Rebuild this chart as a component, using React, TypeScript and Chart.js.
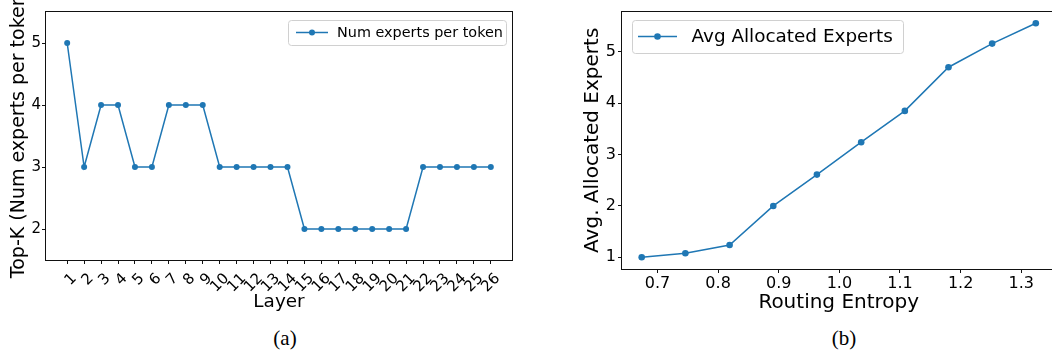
import { useEffect, useRef } from 'react';
import { Chart, registerables } from 'chart.js';

Chart.register(...registerables);

// Panel (a): experts per token for each layer
const layers = [1, 2, 3, 4, 5, 6, 7, 8, 9, 10, 11, 12, 13, 14, 15, 16, 17, 18, 19, 20, 21, 22, 23, 24, 25, 26];
const topK = [5, 3, 4, 4, 3, 3, 4, 4, 4, 3, 3, 3, 3, 3, 2, 2, 2, 2, 2, 2, 2, 3, 3, 3, 3, 3];
const topKTicks = [2, 3, 4, 5];

// Panel (b): average allocated experts vs. routing entropy
const entropy = [0.674, 0.746, 0.819, 0.891, 0.963, 1.036, 1.108, 1.18, 1.252, 1.324];
const avgExperts = [1.0, 1.08, 1.24, 2.0, 2.61, 3.24, 3.85, 4.7, 5.16, 5.555];
const entropyTicks = [0.7, 0.8, 0.9, 1.0, 1.1, 1.2, 1.3];
const avgTicks = [1, 2, 3, 4, 5];

const BLUE = '#1f77b4';
const FAMILY = "'DejaVu Sans', sans-serif";
Chart.defaults.font.family = FAMILY;
Chart.defaults.color = '#000';

// Full rectangular frame around the plotting area
const framePlugin = {
  id: 'frame',
  afterDraw(chart: any) {
    const { ctx, chartArea: a } = chart;
    ctx.save();
    ctx.strokeStyle = '#111';
    ctx.lineWidth = 1;
    const l = Math.round(a.left) - 0.5;
    const t = Math.round(a.top) - 0.5;
    const r = Math.round(a.right) + 0.5;
    const b = Math.round(a.bottom) + 0.5;
    ctx.strokeRect(l, t, r - l, b - t);
    ctx.restore();
  },
};

// Vertical axis title placed by its own centre point (may run past the canvas edge)
const sideTitlePlugin = {
  id: 'sideTitle',
  afterDraw(chart: any, _args: any, o: any) {
    if (!o || !o.text) return;
    const { ctx } = chart;
    ctx.save();
    ctx.translate(o.x, o.y);
    ctx.rotate(-Math.PI / 2);
    ctx.font = `${o.size}px ${FAMILY}`;
    ctx.fillStyle = '#000';
    ctx.textAlign = 'center';
    ctx.textBaseline = 'middle';
    ctx.fillText(o.text, 0, 0);
    ctx.restore();
  },
};

// Legend box with a line-and-marker sample
const legendBoxPlugin = {
  id: 'legendBox',
  afterDraw(chart: any, _args: any, o: any) {
    const { ctx } = chart;
    const ds = chart.data.datasets[0];
    ctx.save();
    ctx.beginPath();
    ctx.roundRect(o.x + 0.5, o.y + 0.5, o.w, o.h, 3);
    ctx.fillStyle = 'rgba(255,255,255,0.8)';
    ctx.fill();
    ctx.strokeStyle = '#d0d0d0';
    ctx.lineWidth = 1;
    ctx.stroke();
    const cy = o.y + o.h / 2;
    ctx.strokeStyle = ds.borderColor;
    ctx.lineWidth = ds.borderWidth;
    ctx.beginPath();
    ctx.moveTo(o.x1, cy);
    ctx.lineTo(o.x2, cy);
    ctx.stroke();
    ctx.fillStyle = ds.borderColor;
    ctx.beginPath();
    ctx.arc((o.x1 + o.x2) / 2, cy, ds.pointRadius, 0, Math.PI * 2);
    ctx.fill();
    ctx.fillStyle = '#000';
    ctx.font = `${o.size}px ${FAMILY}`;
    ctx.textBaseline = 'middle';
    ctx.textAlign = 'left';
    ctx.fillText(ds.label, o.tx, cy + 1);
    ctx.restore();
  },
};

function LineCanvas({ config, left, width, height }: any) {
  const ref = useRef<HTMLCanvasElement | null>(null);
  useEffect(() => {
    const chart = new Chart(ref.current as HTMLCanvasElement, config);
    return () => chart.destroy();
  }, []);
  return (
    <canvas
      ref={ref}
      width={width}
      height={height}
      style={{ position: 'absolute', left, top: 0, width, height, display: 'block' }}
    />
  );
}

const fixedTicks = (values: number[]) => (s: any) => {
  s.ticks = values.map((v) => ({ value: v }));
};

const configA: any = {
  type: 'line',
  data: {
    datasets: [
      {
        label: 'Num experts per token',
        data: layers.map((l, i) => ({ x: l, y: topK[i] })),
        borderColor: BLUE,
        backgroundColor: BLUE,
        borderWidth: 1.5,
        pointRadius: 3,
        pointBorderWidth: 0,
        tension: 0,
      },
    ],
  },
  options: {
    responsive: false,
    animation: false,
    events: [],
    devicePixelRatio: 1,
    layout: { padding: { left: 0, top: 12, right: 18, bottom: 0 } },
    plugins: {
      legend: { display: false },
      tooltip: { enabled: false },
      legendBox: { x: 288, y: 20, w: 218, h: 25, x1: 296, x2: 328, tx: 337, size: 14.4 },
      sideTitle: { text: 'Top-K (Num experts per token)', x: 19, y: 132.5, size: 19 },
    },
    scales: {
      x: {
        type: 'linear',
        min: -0.25,
        max: 27.25,
        afterBuildTicks: fixedTicks(layers),
        afterFit: (s: any) => {
          s.height = 60;
        },
        ticks: {
          autoSkip: false,
          minRotation: 45,
          maxRotation: 45,
          font: { size: 15 },
          padding: 6,
          labelOffset: 7,
          callback: (v: number) => String(v),
        },
        grid: { drawOnChartArea: false, tickLength: 4, color: '#111' },
        border: { display: false },
        title: { display: true, text: 'Layer', font: { size: 18.4 }, padding: { top: 0, bottom: 6.5 } },
      },
      y: {
        min: 1.5,
        max: 5.5,
        afterBuildTicks: fixedTicks(topKTicks),
        afterFit: (s: any) => {
          s.width = 46;
        },
        ticks: { font: { size: 15 }, padding: 1, callback: (v: number) => String(v) },
        grid: { drawOnChartArea: false, tickLength: 4, color: '#111' },
        border: { display: false },
        title: { display: false },
      },
    },
  },
  plugins: [framePlugin, legendBoxPlugin, sideTitlePlugin],
};

const configB: any = {
  type: 'line',
  data: {
    datasets: [
      {
        label: 'Avg Allocated Experts',
        data: entropy.map((e, i) => ({ x: e, y: avgExperts[i] })),
        borderColor: BLUE,
        backgroundColor: BLUE,
        borderWidth: 1.5,
        pointRadius: 3.3,
        pointBorderWidth: 0,
        tension: 0,
      },
    ],
  },
  options: {
    responsive: false,
    animation: false,
    events: [],
    devicePixelRatio: 1,
    layout: { padding: { left: 0, top: 11, right: 4.5, bottom: 0 } },
    plugins: {
      legend: { display: false },
      tooltip: { enabled: false },
      legendBox: { x: 102, y: 20, w: 271, h: 33, x1: 108, x2: 147, tx: 161.5, size: 18.4 },
    },
    scales: {
      x: {
        type: 'linear',
        min: 0.6415,
        max: 1.3565,
        afterBuildTicks: fixedTicks(entropyTicks),
        afterFit: (s: any) => {
          s.height = 51;
        },
        ticks: { font: { size: 16 }, padding: 1, callback: (v: number) => v.toFixed(1) },
        grid: { drawOnChartArea: false, tickLength: 4, color: '#111' },
        border: { display: false },
        title: { display: true, text: 'Routing Entropy', font: { size: 20 }, padding: { top: 0, bottom: 5 } },
      },
      y: {
        min: 0.7725,
        max: 5.7825,
        afterBuildTicks: fixedTicks(avgTicks),
        afterFit: (s: any) => {
          s.width = 92;
        },
        ticks: { font: { size: 16 }, padding: 2, callback: (v: number) => String(v) },
        grid: { drawOnChartArea: false, tickLength: 4, color: '#111' },
        border: { display: false },
        title: {
          display: true,
          text: 'Avg. Allocated Experts',
          font: { size: 20 },
          padding: { top: 51, bottom: 0 },
        },
      },
    },
  },
  plugins: [framePlugin, legendBoxPlugin],
};

const captionStyle: any = {
  position: 'absolute',
  top: 325,
  fontFamily: "'Liberation Serif', 'Times New Roman', serif",
  fontSize: 21,
  lineHeight: '26px',
  transform: 'translateX(-50%)',
  color: '#000',
};

export default function App() {
  return (
    <div
      style={{
        position: 'fixed',
        left: 0,
        top: 0,
        width: 1052,
        height: 356,
        overflow: 'hidden',
        background: '#fff',
      }}
    >
      <LineCanvas config={configA} left={0} width={530} height={320} />
      <LineCanvas config={configB} left={530} width={530} height={320} />
      <div style={{ ...captionStyle, left: 285 }}>(a)</div>
      <div style={{ ...captionStyle, left: 844 }}>(b)</div>
    </div>
  );
}
